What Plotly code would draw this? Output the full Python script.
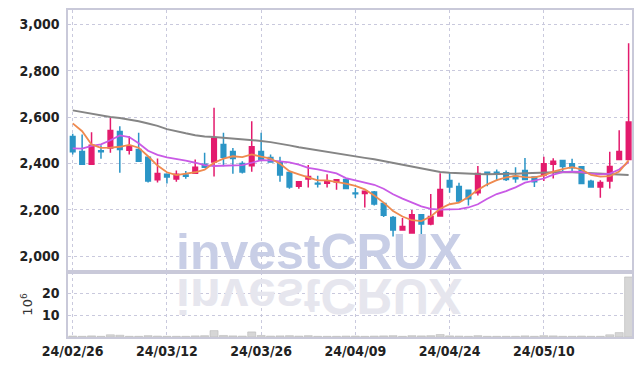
import plotly.graph_objects as go
from plotly.subplots import make_subplots

dates = ["24/02/26","24/02/27","24/02/28","24/02/29",
         "24/03/04","24/03/05","24/03/06","24/03/07","24/03/08","24/03/11","24/03/12","24/03/13","24/03/14","24/03/15",
         "24/03/18","24/03/19","24/03/20","24/03/21","24/03/22","24/03/25","24/03/26","24/03/27","24/03/28","24/03/29",
         "24/04/01","24/04/02","24/04/03","24/04/04","24/04/05","24/04/08","24/04/09","24/04/11","24/04/12",
         "24/04/15","24/04/16","24/04/17","24/04/18","24/04/19","24/04/22","24/04/23","24/04/24","24/04/25","24/04/26",
         "24/04/29","24/04/30","24/05/02","24/05/03","24/05/07","24/05/08","24/05/09","24/05/10",
         "24/05/13","24/05/14","24/05/16","24/05/17","24/05/20","24/05/21","24/05/22","24/05/23","24/05/24"]

open_ = [2516,2452,2396,2455,2467,2538,2457,2460,2427,2330,2353,2333,2350,2358,2396,2406,2482,2452,2400,2390,
         2452,2426,2406,2361,2302,2333,2315,2315,2320,2331,2273,2270,2277,2227,2167,2113,2100,2179,2139,2173,
         2326,2301,2284,2274,2362,2362,2360,2345,2370,2341,2350,2397,2413,2399,2386,2323,2298,2324,2417,2417]
high = [2528,2525,2535,2479,2596,2560,2517,2532,2430,2421,2355,2370,2367,2417,2446,2640,2532,2467,2410,2582,
        2532,2439,2429,2361,2321,2393,2347,2353,2330,2333,2294,2282,2281,2227,2173,2165,2199,2179,2268,2358,
        2360,2317,2284,2389,2362,2374,2370,2384,2424,2341,2429,2422,2413,2420,2386,2330,2327,2450,2543,2919]
low = [2439,2394,2394,2420,2446,2360,2439,2406,2318,2318,2313,2321,2334,2356,2384,2344,2388,2356,2357,2364,
       2410,2403,2321,2291,2291,2296,2296,2296,2287,2290,2251,2210,2219,2169,2085,2113,2100,2079,2133,2173,
       2274,2231,2219,2262,2302,2324,2324,2317,2331,2298,2324,2335,2367,2364,2314,2298,2252,2292,2417,2417]
close = [2450,2396,2479,2450,2542,2460,2473,2410,2324,2357,2341,2353,2345,2384,2384,2509,2427,2421,2363,2472,
         2416,2406,2350,2298,2321,2344,2311,2321,2330,2292,2269,2280,2225,2176,2113,2128,2179,2139,2171,2288,
         2298,2238,2248,2357,2358,2358,2331,2334,2331,2321,2399,2409,2387,2381,2314,2298,2318,2387,2452,2579]

ma_short = [2573,2539,2482,2467,2468,2472,2480,2468,2431,2391,2362,2350,2356,2362,2373,2403,2421,2431,2427,2439,
            2429,2421,2399,2367,2353,2341,2327,2327,2321,2313,2303,2288,2262,2231,2195,2171,2155,2151,2171,2205,
            2224,2231,2255,2286,2310,2328,2340,2346,2341,2340,2349,2365,2376,2384,2374,2351,2343,2345,2365,2413]
ma_mid = [2465,2464,2476,2482,2500,2521,2514,2487,2455,2437,2426,2420,2412,2403,2393,2389,2390,2390,2393,2403,
          2414,2413,2410,2405,2395,2381,2374,2364,2357,2337,2328,2320,2308,2291,2267,2248,2230,2215,2204,2201,
          2202,2203,2210,2224,2248,2268,2281,2297,2317,2327,2335,2352,2363,2365,2363,2356,2353,2356,2374,2406]
ma_long = [2629,2622,2614,2606,2600,2596,2590,2582,2572,2562,2548,2538,2530,2522,2516,2514,2511,2508,2504,2500,
           2497,2492,2486,2478,2470,2463,2456,2450,2444,2437,2430,2424,2418,2410,2400,2392,2385,2376,2368,2363,
           2360,2357,2356,2354,2353,2353,2354,2356,2358,2360,2362,2363,2363,2362,2360,2357,2354,2352,2350,2350]

volume = [0.4,0.3,0.5,0.3,1.0,0.8,0.3,0.3,0.6,0.4,0.3,0.3,0.3,0.5,0.6,2.9,0.7,0.5,0.4,2.3,
          0.7,0.4,0.5,0.6,0.4,0.6,0.3,0.3,0.3,0.4,0.4,0.3,0.4,0.5,0.6,0.3,0.6,0.5,0.6,1.1,
          0.5,0.4,0.3,0.6,0.3,0.3,0.3,0.3,0.5,0.3,0.6,0.5,0.3,0.3,0.4,0.3,0.3,1.0,2.0,27.3]

tick_dates = ["24/02/26","24/03/12","24/03/26","24/04/09","24/04/24","24/05/10"]
price_ticks = [2000, 2200, 2400, 2600, 2800, 3000]
vol_ticks = [10, 20]

UP = "#e31b6d"
DOWN = "#2b95c6"
GRID = "#c9c9dd"
AXLINE = "#c9c9d9"
FONT = "DejaVu Sans Condensed"

fig = make_subplots(rows=2, cols=1, shared_xaxes=True, vertical_spacing=0,
                    row_heights=[0.801, 0.199])

fig.add_trace(go.Scatter(x=dates, y=ma_long, mode="lines",
                         line=dict(color="#858585", width=2), hoverinfo="skip"), row=1, col=1)
fig.add_trace(go.Scatter(x=dates, y=ma_mid, mode="lines",
                         line=dict(color="#c95ae6", width=1.8), hoverinfo="skip"), row=1, col=1)
fig.add_trace(go.Scatter(x=dates, y=ma_short, mode="lines",
                         line=dict(color="#ef8a4f", width=1.8), hoverinfo="skip"), row=1, col=1)
fig.add_trace(go.Candlestick(x=dates, open=open_, high=high, low=low, close=close,
                             increasing=dict(line=dict(color=UP, width=1.5), fillcolor=UP),
                             decreasing=dict(line=dict(color=DOWN, width=1.5), fillcolor=DOWN),
                             whiskerwidth=0), row=1, col=1)
fig.add_trace(go.Bar(x=dates, y=volume, marker=dict(color="#d6d6d6", line=dict(color="#b9b9b9", width=0.6)),
                     width=0.85), row=2, col=1)

tickfont = dict(family=FONT, size=14, color="#222222", weight=600)

fig.update_layout(
    width=642, height=366,
    margin=dict(l=68, r=10, t=10, b=29, autoexpand=False),
    paper_bgcolor="white", plot_bgcolor="white",
    showlegend=False,
    bargap=0.1,
    annotations=[
        dict(text="investCRUX", xref="paper", yref="paper", x=0.445, y=0.26,
             xanchor="center", yanchor="middle", showarrow=False,
             font=dict(family="Liberation Sans, Arial, sans-serif", size=50, weight="bold", color="#c8cee6")),
        dict(text="investCRUX", xref="paper", yref="paper", x=0.445, y=0.125,
             xanchor="center", yanchor="middle", showarrow=False,
             font=dict(family="Liberation Sans, Arial, sans-serif", size=50, weight="bold", color="#e6e6ee")),
    ],
)

for r in (1, 2):
    fig.update_xaxes(type="category", range=[-0.5, 59.36], tickmode="array", tickvals=tick_dates,
                     showgrid=True, gridcolor=GRID, griddash="dot", gridwidth=1,
                     showline=True, linecolor=AXLINE, linewidth=1.5, mirror=True,
                     rangeslider=dict(visible=False), tickfont=tickfont, automargin=False,
                     ticks="", row=r, col=1)

fig.update_yaxes(range=[1932, 3062], tickvals=price_ticks, tickformat=",",
                 showgrid=True, gridcolor=GRID, griddash="dot", gridwidth=1,
                 showline=True, linecolor=AXLINE, linewidth=1.5, mirror=True, zeroline=False,
                 tickfont=tickfont, ticks="outside", ticklen=4, tickcolor="rgba(0,0,0,0)",
                 automargin=False, row=1, col=1)
fig.update_yaxes(range=[0, 29.6], tickvals=vol_ticks,
                 showgrid=True, gridcolor=GRID, griddash="dot", gridwidth=1,
                 showline=True, linecolor=AXLINE, linewidth=1.5, mirror=True, zeroline=False,
                 tickfont=tickfont, ticks="outside", ticklen=4, tickcolor="rgba(0,0,0,0)",
                 automargin=False,
                 title=dict(text="10<sup>6</sup>", font=dict(family="DejaVu Sans", size=13, color="#333333"), standoff=6),
                 row=2, col=1)

post = """
document.body.style.margin = '0';
document.body.style.padding = '0';
var gd = document.getElementById('{plot_id}');
function flipWM(){
  var a = gd.querySelector('.annotation[data-index="1"] text.annotation-text');
  if(!a || a.getAttribute('data-flipped')) return;
  var b = a.getBBox();
  var cy = b.y + b.height/2;
  a.setAttribute('transform', 'translate(0,' + (2*cy) + ') scale(1,-1)');
  a.setAttribute('data-flipped', '1');
}
flipWM();
if (gd.on) { gd.on('plotly_afterplot', flipWM); }
"""

fig.write_html("out.html", post_script=post, config={"displayModeBar": False})
